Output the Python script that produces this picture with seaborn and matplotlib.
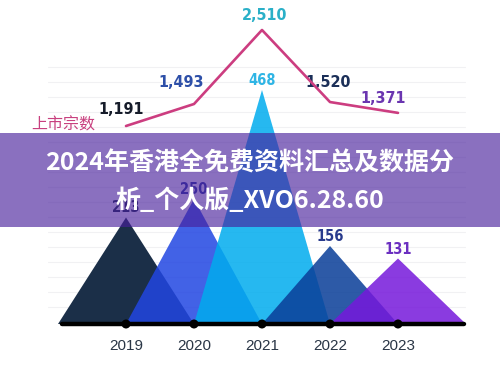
import seaborn as sns
import numpy as np
import matplotlib.pyplot as plt
from matplotlib.patches import Rectangle

sns.set_theme(style='white')
plt.rcParams['font.family'] = ['Noto Sans CJK SC', 'DejaVu Sans']

years = ['2019', '2020', '2021', '2022', '2023']
peak_vals = [213, 250, 468, 156, 131]
listings = [1191, 1493, 2510, 1520, 1371]
series_name = '上市宗数'
banner_lines = ['2024年香港全免费资料汇总及数据分', '析_个人版_XVO6.28.60']

tri_colors = ['#1b2f48', '#2146e2', '#00acee', '#0a3f99', '#7618db']
tri_alpha = [1.0, 0.85, 0.85, 0.86, 0.85]
peak_label_colors = ['#1b2f48', '#2a3ea0', '#2fb5e5', '#283a8c', '#6b2fc0']
line_label_colors = ['#161c2a', '#2d4fa8', '#2ab0c8', '#1b2f58', '#6a35b0']
# label offsets in pixels, the original places them a bit unevenly
line_label_off = [(-5, 16), (-13, 22), (3, 14), (-2, 20), (-15, 14)]
narrow = dict(family='DejaVu Sans', fontstretch='condensed', fontweight='bold')

fig = plt.figure(figsize=(5, 3.65), dpi=100)
ax = fig.add_axes([0, 0, 1, 1])
ax.set_xlim(-126 / 68, 374 / 68)
ax.set_ylim(-41 / 0.5, 324 / 0.5)
ax.axis('off')

idx = np.arange(len(years))

# faint guide lines
for g in np.arange(34, 540, 30):
    ax.plot([-1.15, 4.99], [g, g], color='#f1f1f3', lw=0.8, zorder=0)

# mountains
for i, v in enumerate(peak_vals):
    ax.fill([i - 1, i, i + 1], [0, v, 0], color=tri_colors[i], alpha=tri_alpha[i], lw=0, zorder=1 + i)
    ax.text(i, v + 19, str(v), ha='center', va='center', fontsize=10.5,
            color=peak_label_colors[i], zorder=8, **narrow)

# axis bar with dots
ax.plot([-0.94, 4.97], [0, 0], color='black', lw=3.2, solid_capstyle='round', zorder=7)
sns.scatterplot(x=idx, y=np.zeros(len(idx)), color='black', s=42, edgecolor='none', ax=ax, zorder=8)
for i, yr in enumerate(years):
    ax.text(i, -44, yr, ha='center', va='center', fontsize=11, color='#2a3646',
            family=['Liberation Sans', 'DejaVu Sans'])

# listings line
ax2 = ax.twinx()
ax2.set_ylim(-2093, 2922)
ax2.axis('off')
sns.lineplot(x=idx, y=listings, ax=ax2, color='#cc3d80', lw=1.9, zorder=9)
for i, v in enumerate(listings):
    ax2.annotate(f'{v:,}', (i, v), xytext=line_label_off[i], textcoords='offset pixels',
                 ha='center', va='center', fontsize=11.5,
                 color=line_label_colors[i], **narrow)
ax2.annotate(series_name, (0, listings[0]), xytext=(-63, 1), textcoords='offset pixels',
             ha='center', va='center', fontsize=11.5, color='#c8407f')

# banner overlay
fig.add_artist(Rectangle((0, 138 / 365), 1, 94 / 365, transform=fig.transFigure,
                         facecolor='#481f9c', alpha=0.64, lw=0, zorder=20))
fig.text(0.5, 202 / 365, banner_lines[0], ha='center', va='center', color='white',
         fontsize=18, fontweight='bold', zorder=21)
fig.text(0.5, 165 / 365, banner_lines[1], ha='center', va='center', color='white',
         fontsize=18, fontweight='bold', zorder=21)

fig.savefig('out.png', dpi=100)
